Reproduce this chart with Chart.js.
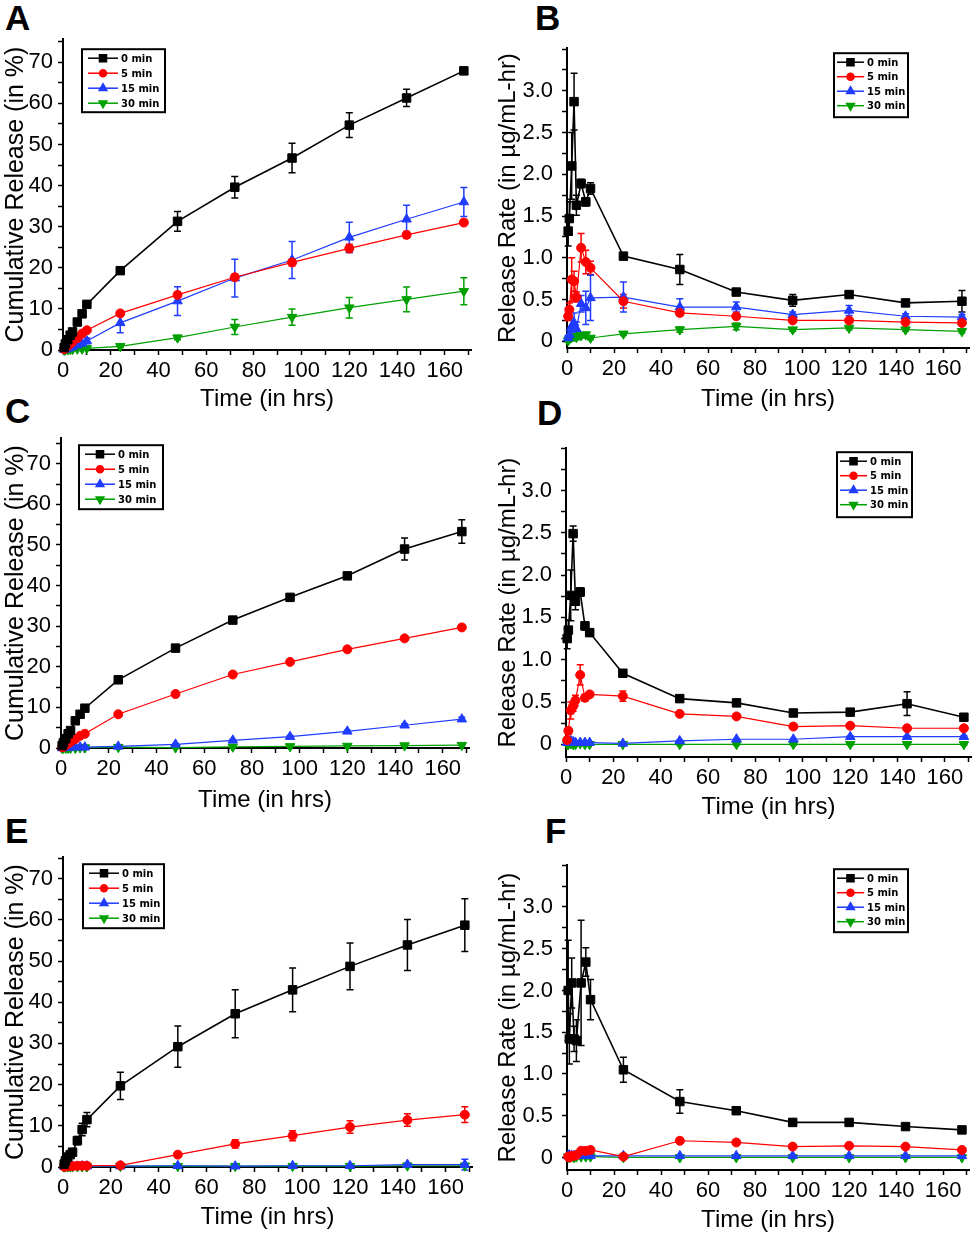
<!DOCTYPE html>
<html>
<head>
<meta charset="utf-8">
<script src="https://cdn.jsdelivr.net/npm/chart.js@4.4.1/dist/chart.umd.min.js"></script>
<style>
  body { margin: 0; background: #fff; width: 979px; height: 1233px; position: relative; overflow: hidden; }
  canvas { position: absolute; }
  .tag { position: absolute; font: bold 35px/35px "Liberation Sans", Arial, sans-serif; color: #000; }
</style>
</head>
<body>
<div class="tag" style="left:5px;top:0px">A</div>
<div class="tag" style="left:535px;top:0px">B</div>
<div class="tag" style="left:5px;top:393px">C</div>
<div class="tag" style="left:537px;top:395px">D</div>
<div class="tag" style="left:5px;top:813px">E</div>
<div class="tag" style="left:545px;top:813px">F</div>
<canvas id="panelA"></canvas>
<canvas id="panelB"></canvas>
<canvas id="panelC"></canvas>
<canvas id="panelD"></canvas>
<canvas id="panelE"></canvas>
<canvas id="panelF"></canvas>
<script>
// sampling times (hrs)
const times = [0.5, 1, 2, 3, 4, 6, 8, 10, 24, 48, 72, 96, 120, 144, 168];
const seriesNames = ['0 min', '5 min', '15 min', '30 min'];

// axis ticks (every mark) and the ones that carry a label
const xTickMarks = [0, 10, 20, 30, 40, 50, 60, 70, 80, 90, 100, 110, 120, 130, 140, 150, 160, 170];
const xTickLabels = [0, 20, 40, 60, 80, 100, 120, 140, 160];
const cumTickMarks = [0, 5, 10, 15, 20, 25, 30, 35, 40, 45, 50, 55, 60, 65, 70, 75];
const cumTickLabels = [0, 10, 20, 30, 40, 50, 60, 70];
const rateTickMarks = [0, 0.25, 0.5, 0.75, 1.0, 1.25, 1.5, 1.75, 2.0, 2.25, 2.5, 2.75, 3.0, 3.25, 3.5];
const rateTickLabels = [0, 0.5, 1.0, 1.5, 2.0, 2.5, 3.0];

// A - cumulative release (%)
const a0 = [0.6, 1.5, 2.5, 3.6, 4.4, 6.8, 8.8, 11.1, 19.3, 31.3, 39.6, 46.7, 54.7, 61.3, 67.9];
const a0err = [0.2, 0.3, 0.3, 0.4, 0.5, 0.5, 0.5, 0.6, 0.7, 2.4, 2.6, 3.6, 3.0, 2.1, 0.6];
const a5 = [0.2, 0.5, 1.0, 1.5, 2.0, 2.9, 4.0, 4.8, 8.9, 13.4, 17.7, 21.3, 24.7, 28.0, 31.0];
const a5err = [0.1, 0.1, 0.2, 0.2, 0.3, 0.3, 0.4, 0.4, 0.6, 0.6, 0.7, 0.8, 1.0, 0.8, 0.6];
const a15 = [0.1, 0.2, 0.4, 0.6, 0.8, 1.2, 1.6, 2.2, 6.6, 11.9, 17.5, 21.9, 27.4, 31.8, 36.0];
const a15err = [0.1, 0.1, 0.2, 0.2, 0.3, 0.4, 0.6, 0.7, 2.4, 3.5, 4.6, 4.5, 3.7, 3.4, 3.5];
const a30 = [0.0, 0.1, 0.1, 0.2, 0.2, 0.3, 0.3, 0.4, 0.9, 3.0, 5.6, 8.0, 10.3, 12.3, 14.3];
const a30err = [0.1, 0.1, 0.1, 0.1, 0.1, 0.2, 0.2, 0.2, 0.3, 0.5, 1.8, 2.0, 2.5, 3.0, 3.3];

// B - release rate (µg/mL-hr)
const b0 = [1.32, 1.47, 2.10, 2.87, 1.63, 1.89, 1.67, 1.83, 1.02, 0.86, 0.59, 0.49, 0.56, 0.46, 0.48];
const b0err = [0.18, 0.2, 0.4, 0.34, 0.12, 0.05, 0.05, 0.07, 0.03, 0.18, 0.03, 0.07, 0.03, 0.03, 0.13];
const b5 = [0.30, 0.38, 0.74, 0.72, 0.53, 1.12, 0.95, 0.88, 0.48, 0.34, 0.30, 0.25, 0.25, 0.23, 0.22];
const b5err = [0.05, 0.08, 0.26, 0.12, 0.06, 0.17, 0.14, 0.08, 0.08, 0.03, 0.02, 0.02, 0.02, 0.02, 0.02];
const b15 = [0.04, 0.08, 0.18, 0.22, 0.15, 0.45, 0.40, 0.52, 0.53, 0.41, 0.41, 0.32, 0.37, 0.30, 0.29];
const b15err = [0.03, 0.05, 0.1, 0.12, 0.08, 0.1, 0.2, 0.27, 0.18, 0.1, 0.06, 0.03, 0.06, 0.03, 0.03];
const b30 = [0.01, 0.03, 0.05, 0.06, 0.05, 0.07, 0.08, 0.04, 0.09, 0.14, 0.18, 0.14, 0.16, 0.14, 0.12];
const b30err = [0.02, 0.03, 0.03, 0.03, 0.03, 0.03, 0.03, 0.02, 0.02, 0.03, 0.04, 0.02, 0.02, 0.02, 0.02];

// C - cumulative release (%)
const c0 = [0.6, 1.3, 2.3, 3.5, 4.3, 6.7, 8.3, 9.8, 16.8, 24.6, 31.5, 37.1, 42.4, 49.0, 53.3];
const c0err = [0.1, 0.2, 0.2, 0.3, 0.3, 0.3, 0.4, 0.4, 0.5, 0.5, 0.6, 0.6, 0.6, 2.7, 2.9];
const c5 = [0.2, 0.3, 0.7, 1.1, 1.5, 2.2, 3.0, 3.5, 8.3, 13.3, 18.1, 21.2, 24.3, 27.0, 29.7];
const c5err = [0.1, 0.1, 0.1, 0.1, 0.2, 0.2, 0.2, 0.2, 0.3, 0.3, 0.3, 0.3, 0.4, 0.4, 0.4];
const c15 = [0.0, 0.1, 0.1, 0.1, 0.2, 0.2, 0.2, 0.2, 0.4, 0.9, 1.9, 2.8, 4.1, 5.6, 7.1];
const c15err = [0.1, 0.1, 0.1, 0.1, 0.1, 0.1, 0.1, 0.1, 0.1, 0.2, 0.2, 0.3, 0.3, 0.4, 0.5];
const c30 = [0.0, 0.0, 0.0, 0.0, 0.0, 0.0, 0.1, 0.1, 0.2, 0.1, 0.3, 0.4, 0.5, 0.6, 0.7];
const c30err = [0.1, 0.1, 0.1, 0.1, 0.1, 0.1, 0.1, 0.1, 0.1, 0.1, 0.1, 0.1, 0.1, 0.1, 0.1];

// D - release rate (µg/mL-hr)
const d0 = [1.25, 1.35, 1.76, 2.49, 1.69, 1.80, 1.40, 1.32, 0.84, 0.54, 0.49, 0.37, 0.38, 0.48, 0.32];
const d0err = [0.12, 0.12, 0.3, 0.09, 0.1, 0.05, 0.05, 0.04, 0.03, 0.03, 0.03, 0.03, 0.03, 0.14, 0.03];
const d5 = [0.05, 0.16, 0.40, 0.45, 0.52, 0.82, 0.55, 0.59, 0.57, 0.36, 0.33, 0.21, 0.22, 0.19, 0.19];
const d5err = [0.03, 0.04, 0.1, 0.06, 0.06, 0.12, 0.04, 0.03, 0.06, 0.02, 0.02, 0.02, 0.02, 0.02, 0.02];
const d15 = [0.02, 0.03, 0.04, 0.03, 0.02, 0.02, 0.02, 0.02, 0.01, 0.04, 0.06, 0.06, 0.09, 0.09, 0.09];
const d15err = [0.02, 0.02, 0.02, 0.02, 0.02, 0.01, 0.01, 0.01, 0.01, 0.01, 0.01, 0.01, 0.01, 0.01, 0.01];
const d30 = [0.0, 0.0, 0.01, 0.0, 0.0, 0.01, 0.0, 0.0, 0.0, 0.0, 0.0, 0.0, 0.0, 0.0, 0.0];
const d30err = [0.01, 0.01, 0.01, 0.01, 0.01, 0.01, 0.01, 0.01, 0.01, 0.01, 0.01, 0.01, 0.01, 0.01, 0.01];

// E - cumulative release (%)
const e0 = [0.7, 1.5, 2.4, 3.0, 3.6, 6.4, 9.1, 11.5, 19.7, 29.2, 37.2, 43.0, 48.7, 53.9, 58.7];
const e0err = [0.3, 0.4, 0.5, 0.6, 0.7, 1.0, 1.5, 1.7, 3.3, 5.0, 5.8, 5.3, 5.7, 6.2, 6.4];
const e5 = [0.1, 0.1, 0.2, 0.2, 0.2, 0.3, 0.3, 0.3, 0.4, 3.0, 5.6, 7.6, 9.7, 11.4, 12.7];
const e5err = [0.1, 0.1, 0.1, 0.1, 0.1, 0.1, 0.1, 0.2, 0.3, 0.5, 1.0, 1.2, 1.5, 1.5, 1.9];
const e15 = [0.1, 0.1, 0.1, 0.1, 0.1, 0.1, 0.2, 0.2, 0.2, 0.3, 0.2, 0.3, 0.3, 0.6, 0.6];
const e15err = [0.1, 0.1, 0.1, 0.1, 0.1, 0.1, 0.1, 0.1, 0.1, 0.1, 0.1, 0.2, 0.2, 0.3, 1.3];
const e30 = [0.1, 0.1, 0.1, 0.1, 0.1, 0.1, 0.1, 0.1, 0.2, 0.2, 0.2, 0.2, 0.2, 0.3, 0.3];
const e30err = [0.1, 0.1, 0.1, 0.1, 0.1, 0.1, 0.1, 0.1, 0.1, 0.1, 0.1, 0.1, 0.1, 0.1, 0.2];

// F - release rate (µg/mL-hr)
const f0 = [2.00, 1.42, 2.09, 1.42, 1.40, 2.09, 2.34, 1.89, 1.05, 0.67, 0.56, 0.42, 0.42, 0.37, 0.33];
const f0err = [0.6, 0.3, 0.3, 0.15, 0.25, 0.75, 0.17, 0.24, 0.15, 0.14, 0.02, 0.02, 0.02, 0.02, 0.02];
const f5 = [0.01, 0.0, 0.02, 0.02, 0.03, 0.08, 0.08, 0.09, 0.01, 0.20, 0.18, 0.13, 0.14, 0.13, 0.09];
const f5err = [0.02, 0.02, 0.02, 0.02, 0.02, 0.02, 0.02, 0.02, 0.02, 0.02, 0.02, 0.02, 0.02, 0.02, 0.02];
const f15 = [0.02, 0.03, 0.02, 0.02, 0.02, 0.02, 0.02, 0.02, 0.02, 0.02, 0.02, 0.02, 0.02, 0.02, 0.02];
const f15err = [0.01, 0.01, 0.01, 0.01, 0.01, 0.01, 0.01, 0.01, 0.01, 0.01, 0.01, 0.01, 0.01, 0.01, 0.01];
const f30 = [0.01, 0.0, 0.01, 0.0, 0.01, 0.01, 0.01, 0.01, 0.0, 0.0, 0.0, 0.0, 0.0, 0.0, 0.0];
const f30err = [0.01, 0.01, 0.01, 0.01, 0.01, 0.01, 0.01, 0.01, 0.01, 0.01, 0.01, 0.01, 0.01, 0.01, 0.01];

const colors = ['#000000', '#ff0000', '#1f3cff', '#00a000'];
const styles = ['rect', 'circle', 'triangle', 'triangle'];
const radii = [6, 4.5, 5.5, 5.5];
const rotations = [0, 0, 0, 180];

const FONT = '"Liberation Sans", Arial, sans-serif';

// error bars, drawn under the markers
const errorBars = {
  id: 'errorBars',
  beforeDatasetsDraw(chart) {
    const { ctx, scales: { x, y } } = chart;
    ctx.save();
    chart.data.datasets.forEach(ds => {
      if (!ds.errors) return;
      ctx.strokeStyle = ds.borderColor;
      ctx.lineWidth = 1.5;
      ds.data.forEach((p, j) => {
        const e = ds.errors[j];
        if (!e) return;
        const px = x.getPixelForValue(p.x);
        const top = y.getPixelForValue(p.y + e);
        const bot = y.getPixelForValue(p.y - e);
        ctx.beginPath();
        ctx.moveTo(px, top); ctx.lineTo(px, bot);
        ctx.moveTo(px - 3.5, top); ctx.lineTo(px + 3.5, top);
        ctx.moveTo(px - 3.5, bot); ctx.lineTo(px + 3.5, bot);
        ctx.stroke();
      });
    });
    ctx.restore();
  }
};

// framed legend inside the plot area
const boxLegend = {
  id: 'boxLegend',
  afterDraw(chart, args, o) {
    const { ctx, chartArea: a } = chart;
    const bx = o.side === 'right' ? a.right - o.dx - o.w : a.left + o.dx;
    const by = a.top + o.dy;
    ctx.save();
    ctx.fillStyle = '#fff';
    ctx.fillRect(bx, by, o.w, o.h);
    ctx.lineWidth = 2;
    ctx.strokeStyle = '#000';
    ctx.strokeRect(bx, by, o.w, o.h);
    ctx.font = 'bold 10px "DejaVu Sans", sans-serif';
    ctx.textBaseline = 'middle';
    chart.data.datasets.forEach((ds, i) => {
      const ry = by + o.row0 + i * o.gap;
      ctx.strokeStyle = ds.borderColor;
      ctx.fillStyle = ds.borderColor;
      ctx.lineWidth = 1.5;
      ctx.beginPath();
      ctx.moveTo(bx + o.l0, ry);
      ctx.lineTo(bx + o.l1, ry);
      ctx.stroke();
      Chart.helpers.drawPoint(ctx, {
        pointStyle: ds.pointStyle, rotation: ds.pointRotation, radius: ds.pointRadius - 1, borderWidth: 1
      }, bx + (o.l0 + o.l1) / 2, ry);
      ctx.fillStyle = '#000';
      ctx.fillText(ds.label, bx + o.tx, ry + 1);
    });
    ctx.restore();
  }
};

function makeDatasets(vals, errs) {
  return vals.map((v, i) => ({
    label: seriesNames[i],
    data: times.map((t, j) => ({ x: t, y: v[j] })),
    errors: errs[i],
    borderColor: colors[i],
    backgroundColor: colors[i],
    borderWidth: i === 0 ? 1.6 : 1.2,
    pointStyle: styles[i],
    pointRadius: radii[i],
    pointRotation: rotations[i],
    pointBorderWidth: 1,
    tension: 0,
    clip: false
  }));
}

function labelFor(list, v, decimals) {
  const hit = list.find(t => Math.abs(t - v) < 1e-6);
  if (hit === undefined) return '';
  return decimals && hit !== 0 ? hit.toFixed(1) : String(hit);
}

function makePanel(id, area, titleX, titleY, isRate, yMin, yMax, legend, vals, errs) {
  const cl = Math.round(titleX - 14.4);
  const ct = area.t - 12;
  const cw = area.r + 6 - cl;
  const ch = Math.round(titleY + 14.4 + 2) - ct;
  const cv = document.getElementById(id);
  cv.width = cw; cv.height = ch;
  cv.style.left = cl + 'px'; cv.style.top = ct + 'px';
  cv.style.width = cw + 'px'; cv.style.height = ch + 'px';

  const yMarks = isRate ? rateTickMarks : cumTickMarks;
  const yLabels = isRate ? rateTickLabels : cumTickLabels;
  const xHeight = titleY + 14.4 - area.b;

  new Chart(cv, {
    type: 'line',
    data: { datasets: makeDatasets(vals, errs) },
    options: {
      responsive: false,
      animation: false,
      layout: { padding: { left: 0, top: 12, right: 6, bottom: ch - (area.b - ct) - xHeight } },
      plugins: {
        legend: { display: false },
        tooltip: { enabled: false },
        boxLegend: legend
      },
      scales: {
        x: {
          type: 'linear', min: 0, max: 171, bounds: 'data',
          border: { color: '#000', width: 2 },
          grid: { drawOnChartArea: false, color: '#000', tickLength: 5, tickWidth: 1.5 },
          afterBuildTicks: s => { s.ticks = xTickMarks.map(v => ({ value: v })); },
          ticks: {
            autoSkip: false, maxRotation: 0, padding: 3,
            color: '#000', font: { family: FONT, size: 22 },
            callback: v => labelFor(xTickLabels, v, false)
          },
          title: { display: true, text: 'Time (in hrs)', color: '#000', padding: 0, font: { family: FONT, size: 24, lineHeight: 1.2 } },
          afterFit: s => { s.height = xHeight; }
        },
        y: {
          type: 'linear', min: yMin, max: yMax, bounds: 'data',
          border: { color: '#000', width: 2 },
          grid: { drawOnChartArea: false, color: '#000', tickLength: 5, tickWidth: 1.5 },
          afterBuildTicks: s => { s.ticks = yMarks.map(v => ({ value: v })); },
          ticks: {
            autoSkip: false, padding: isRate ? 9 : 5,
            color: '#000', font: { family: FONT, size: 22 },
            callback: v => labelFor(yLabels, v, isRate)
          },
          title: {
            display: true, padding: 0, color: '#000', font: { family: FONT, size: isRate ? 24 : 25, lineHeight: 1.2 },
            text: isRate ? 'Release Rate (in µg/mL-hr)' : 'Cumulative Release (in %)'
          },
          afterFit: s => { s.width = area.l - cl; }
        }
      }
    },
    plugins: [errorBars, boxLegend]
  });
}

const leftLegend = { side: 'left', row0: 9, gap: 15, l0: 6, l1: 36, tx: 39 };
const rightLegend = { side: 'right', row0: 9, gap: 14.5, l0: 3, l1: 30, tx: 33 };

makePanel('panelA', { l: 63, t: 33, r: 472, b: 350 }, 15, 399, false, 0, 75.6,
  Object.assign({ dx: 19, dy: 10, w: 83, h: 63 }, leftLegend),
  [a0, a5, a15, a30], [a0err, a5err, a15err, a30err]);
makePanel('panelB', { l: 567, t: 38, r: 970, b: 348 }, 508, 399, true, -0.08, 3.51,
  Object.assign({ dx: 61, dy: 5, w: 74, h: 64 }, rightLegend),
  [b0, b5, b15, b30], [b0err, b5err, b15err, b30err]);
makePanel('panelC', { l: 61, t: 432, r: 470, b: 748 }, 15, 800, false, 0, 76.3,
  Object.assign({ dx: 18, dy: 7, w: 84, h: 64 }, leftLegend),
  [c0, c5, c15, c30], [c0err, c5err, c15err, c30err]);
makePanel('panelD', { l: 566, t: 438, r: 972, b: 757 }, 508, 807, true, -0.15, 3.5,
  Object.assign({ dx: 59, dy: 4, w: 75, h: 65 }, rightLegend),
  [d0, d5, d15, d30], [d0err, d5err, d15err, d30err]);
makePanel('panelE', { l: 63, t: 851, r: 473, b: 1167 }, 15, 1217, false, 0, 75.2,
  Object.assign({ dx: 20, dy: 7, w: 81, h: 64 }, leftLegend),
  [e0, e5, e15, e30], [e0err, e5err, e15err, e30err]);
makePanel('panelF', { l: 567, t: 855, r: 970, b: 1170 }, 508, 1220, true, -0.15, 3.5,
  Object.assign({ dx: 61, dy: 4, w: 74, h: 63 }, rightLegend),
  [f0, f5, f15, f30], [f0err, f5err, f15err, f30err]);
</script>
</body>
</html>
